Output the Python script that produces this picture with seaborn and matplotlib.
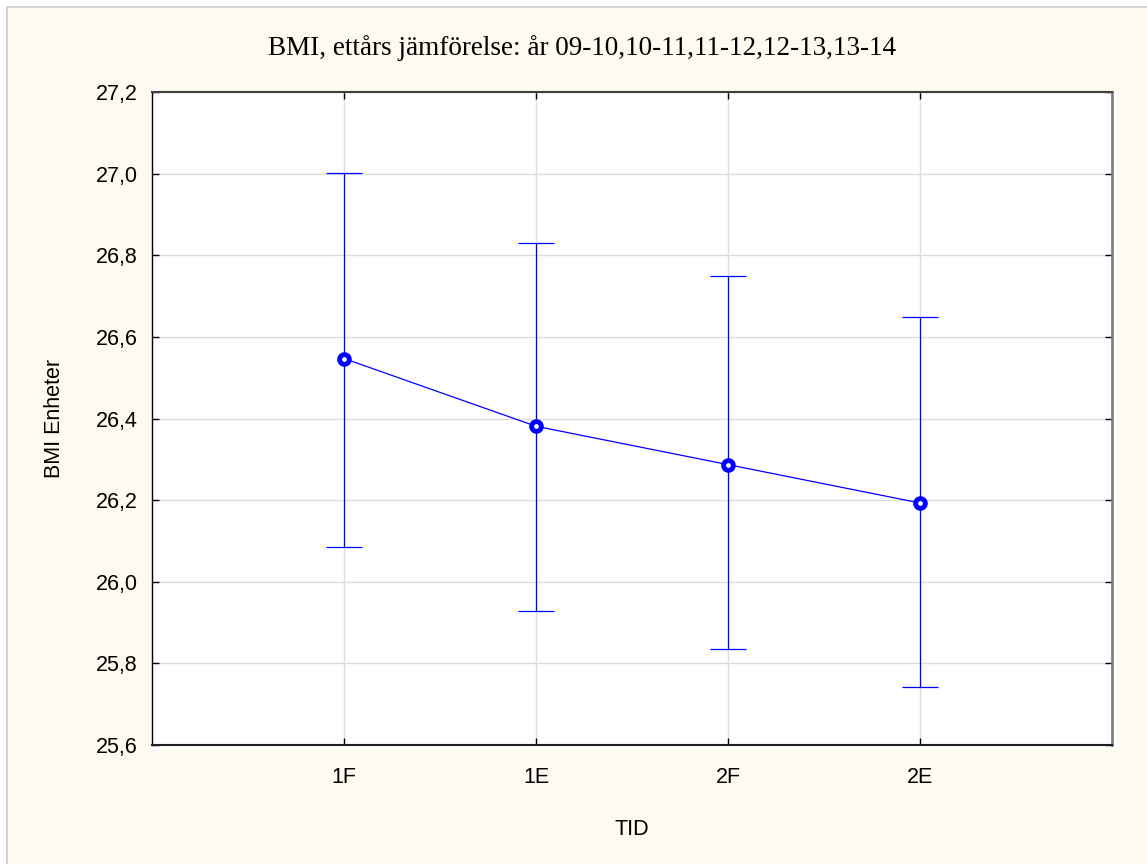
import matplotlib
matplotlib.use("Agg")
import matplotlib.pyplot as plt
import seaborn as sns
import pandas as pd
from matplotlib.patches import Rectangle

# ---- data ----
categories = ["1F", "1E", "2F", "2E"]
means = [26.547, 26.381, 26.287, 26.193]
upper = [27.002, 26.829, 26.748, 26.648]
lower = [26.085, 25.928, 25.835, 25.743]
yticks = [25.6, 25.8, 26.0, 26.2, 26.4, 26.6, 26.8, 27.0, 27.2]
ytick_labels = ["25,6", "25,8", "26,0", "26,2", "26,4", "26,6", "26,8", "27,0", "27,2"]
title = "BMI, ettårs jämförelse: år 09-10,10-11,11-12,12-13,13-14"
xlabel = "TID"
ylabel = "BMI Enheter"

df = pd.DataFrame({"TID": categories, "BMI": means})

sns.set_theme(style="white")
plt.rcParams["font.family"] = ["Liberation Sans", "DejaVu Sans"]

W, H = 1147, 864
fig = plt.figure(figsize=(W / 100, H / 100), dpi=100)
fig.patch.set_facecolor("white")

cream = "#FFFAF0"
# cream page with thin grey border (top/left visible)
fig.patches.append(Rectangle((7.5 / W, -0.1), 1.2, 1.1 - 7.5 / H, transform=fig.transFigure,
                             facecolor=cream, edgecolor="#C8CCD2", linewidth=1.2, zorder=-10))
# white plot background slightly larger than axes
fig.patches.append(Rectangle((152 / W, 1 - 750 / H), (1117 - 152) / W, (750 - 92) / H,
                             transform=fig.transFigure, facecolor="white", edgecolor="none",
                             zorder=-9))

ax = fig.add_axes([152 / W, 1 - 745 / H, (1112 - 152) / W, (745 - 92) / H])
ax.set_facecolor("white")

blue = "#0000FF"
yerr_low = [m - l for m, l in zip(means, lower)]
yerr_up = [u - m for m, u in zip(means, upper)]
ax.errorbar(categories, means, yerr=[yerr_low, yerr_up], fmt="none", ecolor=blue,
            elinewidth=0.9, capsize=13, capthick=0.9, zorder=3)
sns.lineplot(data=df, x="TID", y="BMI", ax=ax, color=blue, linewidth=0.9, sort=False,
             marker="o", markersize=7, markerfacecolor="white", markeredgecolor=blue,
             markeredgewidth=3.5, zorder=4)

ax.set_xlim(-1, 4)
ax.set_ylim(25.6, 27.2)
ax.set_yticks(yticks)
ax.set_yticklabels(ytick_labels)
ax.grid(True, color="#DCDCDC", linewidth=1.0)
ax.set_axisbelow(True)

ax.tick_params(axis="both", direction="in", length=5, width=1, color="black",
               labelsize=15.5, labelcolor="black", top=True, right=True, bottom=True, left=True,
               pad=10.5)
ax.tick_params(axis="x", pad=16)

for side, (c, lw) in {"left": ("black", 1.0), "bottom": ("#202020", 1.5),
                      "top": ("#404040", 1.5), "right": ("#808080", 2.0)}.items():
    ax.spines[side].set_visible(True)
    ax.spines[side].set_color(c)
    ax.spines[side].set_linewidth(lw)

ax.set_xlabel(xlabel, fontsize=15.5, color="black", labelpad=22)
ax.set_ylabel(ylabel, fontsize=15.5, color="black", labelpad=22)
fig.text(582 / W, 1 - 48 / H, title, ha="center", va="center", fontsize=19.5,
         family=["Liberation Serif", "DejaVu Serif"], color="black")

fig.savefig("out.png", dpi=100, facecolor=fig.get_facecolor())
